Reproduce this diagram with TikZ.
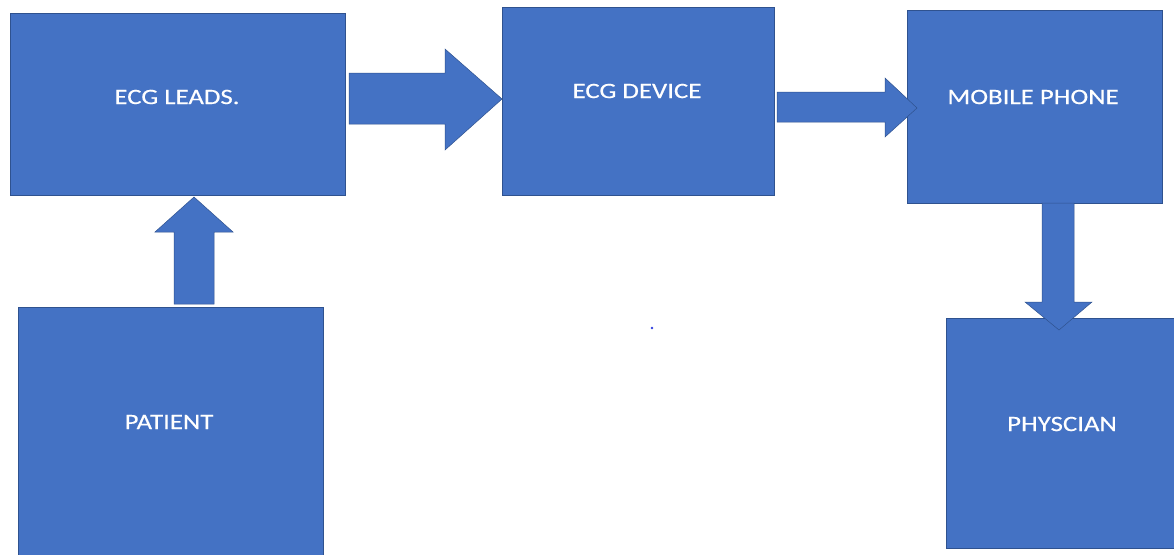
\documentclass[tikz,border=0pt]{standalone}
\usepackage{fontspec}
\setmainfont{Carlito}
\definecolor{boxfill}{HTML}{4472C4}
\definecolor{boxline}{HTML}{2F528F}
\definecolor{dotblue}{HTML}{3040E0}
\newcommand{\lbltxt}[1]{\scalebox{1.22}[1]{#1}}
\begin{document}
\begin{tikzpicture}[x=1pt,y=-1pt,
  blockbox/.style={draw=boxline, line width=0.8pt, fill=boxfill, inner sep=0pt, outer sep=0pt},
  lbl/.style={text=white, font=\fontsize{22}{26}\selectfont, inner sep=0pt},
  blockarrow/.style={draw=boxline, line width=0.5pt, fill=boxfill, line join=miter}]
\useasboundingbox (0,0) rectangle (1174,554);
\fill[white] (0,0) rectangle (1174,554);
% boxes
\node[blockbox, minimum width=335pt, minimum height=182pt] (leads) at (177.5,104) {};
\node[blockbox, minimum width=272pt, minimum height=188pt] (device) at (638,101) {};
\node[blockbox, minimum width=255pt, minimum height=193pt] (phone) at (1034.5,106.5) {};
\node[blockbox, minimum width=305pt, minimum height=252pt] (patient) at (170.5,433) {};
\node[blockbox, minimum width=228pt, minimum height=230pt] (phys) at (1060,433) {};
% labels
\node[lbl] at (177,97) {\lbltxt{\addfontfeature{FakeBold=0.3}ECG LEADS.}};
\node[lbl] at (637,91) {\lbltxt{\addfontfeature{FakeBold=0.3}ECG DEVICE}};
\node[lbl] at (1033,97) {\lbltxt{\addfontfeature{FakeBold=0.3}MOBILE PHONE}};
\node[lbl] at (169,422) {\lbltxt{\addfontfeature{FakeBold=0.3}PATIENT}};
\node[lbl] at (1062,424) {\lbltxt{\addfontfeature{FakeBold=0.3}PHYSCIAN}};
% block arrows
\coordinate (t1) at (502,99);
\coordinate (t3) at (194,197);
\draw[blockarrow] (349,73) -- (445,73) -- (445,49) -- (t1) -- (445,150) -- (445,124) -- (349,124) -- cycle;
\draw[blockarrow] (777,92) -- (885,92) -- (885,78) -- (917,108) -- (885,137) -- (885,122) -- (777,122) -- cycle;
\draw[blockarrow] (174,304) -- (174,232) -- (155,232) -- (t3) -- (233,232) -- (214,232) -- (214,304) -- cycle;
\draw[blockarrow] (1042,203) -- (1074,203) -- (1074,302) -- (1092,302) -- (1059,330) -- (1025,302) -- (1042,302) -- cycle;
% small dot
\fill[dotblue] (652,328) circle (1.3pt);
\end{tikzpicture}
\end{document}
